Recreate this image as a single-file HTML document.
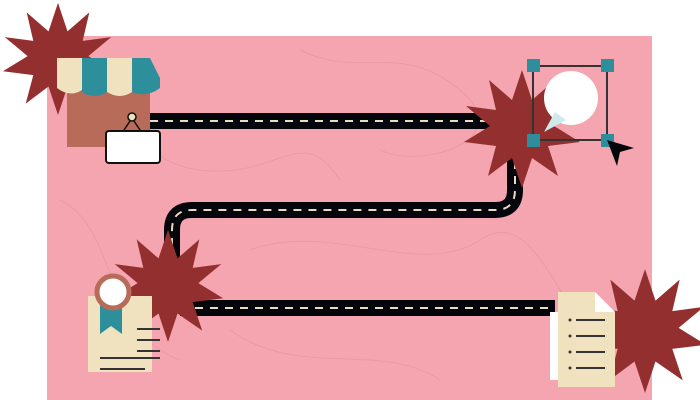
<!DOCTYPE html>
<html><head><meta charset="utf-8"><style>
html,body{margin:0;padding:0;background:#fff;width:700px;height:400px;overflow:hidden}
</style></head><body>
<svg width="700" height="400" viewBox="0 0 700 400" xmlns="http://www.w3.org/2000/svg">
<defs>
<g id="star"><polygon points="0,-58 10,-28 33,-48 26,-18 56,-22 32,-2 58,14 26,18 36,48 10,30 0,60 -10,30 -34,48 -26,18 -58,14 -32,-2 -56,-22 -26,-18 -33,-48 -10,-28" fill="#93302f"/></g>
</defs>
<rect x="47" y="36" width="605" height="364" fill="#f4a5b0"/>
<g fill="none" stroke="#e8919e" stroke-width="1" opacity="0.6">
<path d="M80 60 C140 90 120 160 200 170 S300 120 340 180"/>
<path d="M300 50 C360 80 400 40 460 90 S420 170 380 150"/>
<path d="M60 200 C120 230 100 330 180 360"/>
<path d="M250 250 C330 220 420 280 480 240 S560 330 620 360"/>
<path d="M230 330 C300 380 380 340 440 380"/>
</g>
<g fill="none" stroke-linecap="butt">
<path d="M150 121 H515 V190 Q515 210 495 210 H192 Q172 210 172 230 V270" stroke="#05060c" stroke-width="16"/>
<path d="M150 121 H515 V190 Q515 210 495 210 H192 Q172 210 172 230 V270" stroke="#e8dcc0" stroke-width="2" stroke-dasharray="8 7"/>
<path d="M180 308 H555" stroke="#05060c" stroke-width="16"/>
<path d="M180 308 H555" stroke="#e8dcc0" stroke-width="2" stroke-dasharray="8 7"/>
</g>
<g>
<use href="#star" transform="translate(58,58) scale(0.95)"/>
<use href="#star" transform="translate(522,128)"/>
<use href="#star" transform="translate(168,285) scale(0.95)"/>
<use href="#star" transform="translate(645,330) scale(1.05)"/>
</g>
<!-- store -->
<rect x="67" y="90" width="83" height="57" fill="#b76b58"/>
<g>
<path d="M57 58 H82 V90 Q70 98 57 88 Z" fill="#f1e2bf"/>
<path d="M82 58 H107 V92 Q95 100 82 92 Z" fill="#2e8f9c"/>
<path d="M107 58 H132 V92 Q120 100 107 92 Z" fill="#f1e2bf"/>
<path d="M132 58 H150 L160 78 V88 Q147 98 132 92 Z" fill="#2e8f9c"/>
</g>
<circle cx="132" cy="117" r="4" fill="#f1e2bf" stroke="#111" stroke-width="1.5"/>
<path d="M130 121 L124 130 M134 121 L140 130" stroke="#111" stroke-width="1.5"/>
<rect x="106" y="131" width="54" height="32" rx="3" fill="#fff" stroke="#111" stroke-width="2"/>
<!-- speech bubble -->
<rect x="533" y="66" width="74" height="74" fill="none" stroke="#333" stroke-width="2"/>
<circle cx="571" cy="98" r="27" fill="#fff"/>
<path d="M555 112 L544 132 L566 120 Z" fill="#cfeaec"/>
<g fill="#2e8f9c">
<rect x="527" y="59" width="13" height="13"/><rect x="601" y="59" width="13" height="13"/>
<rect x="527" y="134" width="13" height="13"/><rect x="601" y="134" width="13" height="13"/>
</g>
<path d="M607 140 L634 148 L620 152 L617 166 Z" fill="#05060c"/>
<!-- certificate -->
<rect x="88" y="296" width="64" height="76" fill="#f1e2bf"/>
<path d="M100 300 H122 V334 L111 326 L100 334 Z" fill="#2e8f9c"/>
<circle cx="113" cy="292" r="16" fill="#fff" stroke="#b76b58" stroke-width="5"/>
<g stroke="#333" stroke-width="2"><path d="M137 329 H160"/><path d="M137 340 H160"/><path d="M137 351 H160"/><path d="M100 358 H160"/><path d="M100 369 H145"/></g>
<!-- document -->
<rect x="550" y="312" width="55" height="68" fill="#fff"/>
<path d="M560 295 H597 L617 315 V390 H560 Z" fill="#f1e2bf" transform="translate(-2,-3)"/>
<path d="M595 292 V312 H615 Z" fill="#fff"/>
<g stroke="#333" stroke-width="2"><path d="M576 320 H605"/><path d="M576 336 H605"/><path d="M576 352 H605"/><path d="M576 368 H605"/></g>
<g fill="#333"><circle cx="570" cy="320" r="1.5"/><circle cx="570" cy="336" r="1.5"/><circle cx="570" cy="352" r="1.5"/><circle cx="570" cy="368" r="1.5"/></g>
</svg>
</body></html>
